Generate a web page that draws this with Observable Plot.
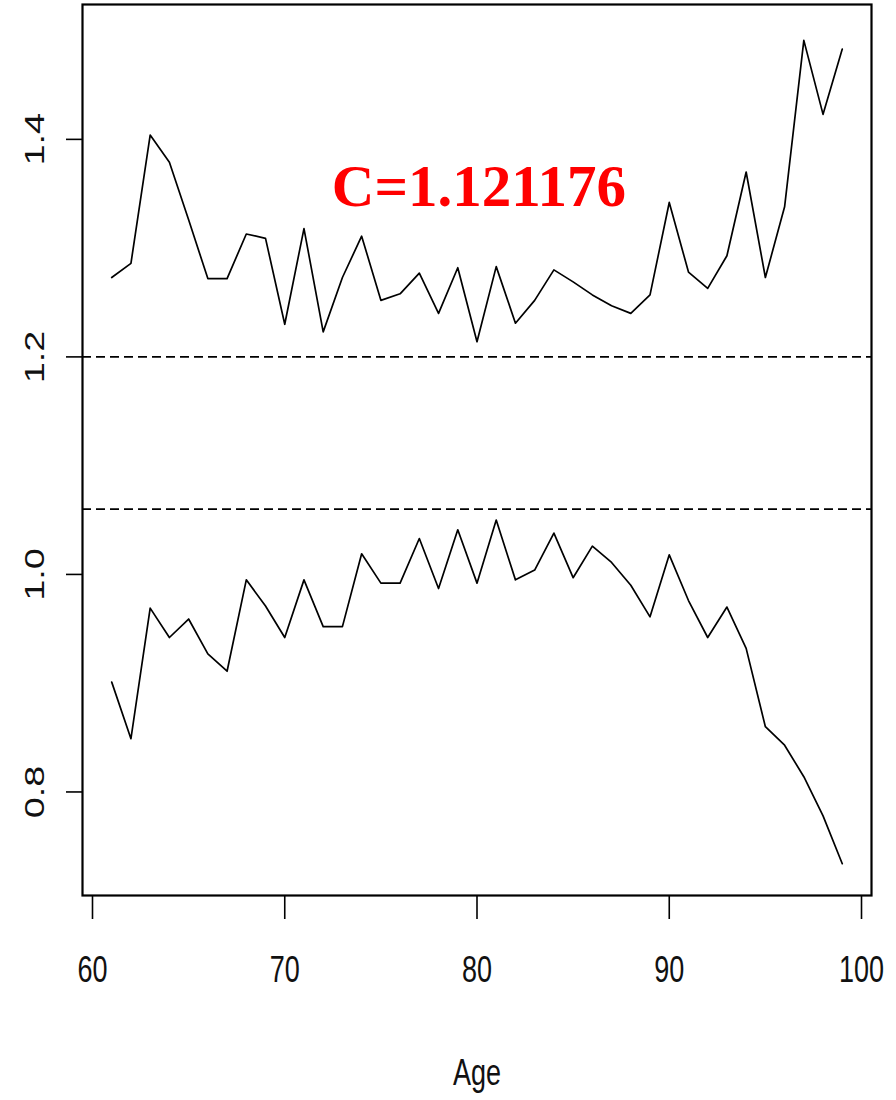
<!DOCTYPE html>
<html>
<head>
<meta charset="utf-8">
<script src="https://cdn.jsdelivr.net/npm/d3@7"></script>
<script src="https://cdn.jsdelivr.net/npm/@observablehq/plot@0.6"></script>
<style>
  html, body { margin: 0; padding: 0; background: #fff; }
  #chart svg { display: block; }
</style>
</head>
<body>
<div id="chart"></div>
<script>
// ---- data ----
const ages = [61,62,63,64,65,66,67,68,69,70,71,72,73,74,75,76,77,78,79,80,
              81,82,83,84,85,86,87,88,89,90,91,92,93,94,95,96,97,98,99];
const upper = [1.273,1.286,1.404,1.379,1.326,1.272,1.272,1.313,1.309,1.230,
               1.318,1.223,1.273,1.311,1.252,1.258,1.277,1.240,1.282,1.214,
               1.283,1.231,1.252,1.280,1.269,1.257,1.247,1.240,1.257,1.342,
               1.278,1.263,1.293,1.370,1.273,1.338,1.491,1.423,1.483];
const lower = [0.901,0.849,0.969,0.942,0.959,0.927,0.911,0.995,0.971,0.942,
               0.995,0.952,0.952,1.019,0.992,0.992,1.033,0.987,1.041,0.992,
               1.050,0.995,1.004,1.038,0.997,1.026,1.011,0.990,0.961,1.018,
               0.976,0.942,0.970,0.932,0.860,0.843,0.814,0.778,0.734];
const refLines = [1.2, 1.06];
const xTicks = [60, 70, 80, 90, 100];
const yTicks = [0.8, 1.0, 1.2, 1.4];
const xLabel = "Age";
const annotation = [{x: 80.1, y: 1.356, text: "C=1.121176"}];

const series = [
  ...ages.map((a, i) => ({age: a, value: upper[i], s: "upper"})),
  ...ages.map((a, i) => ({age: a, value: lower[i], s: "lower"}))
];

const sans = "'Liberation Sans', Arial, sans-serif";

const chart = Plot.plot({
  width: 896,
  height: 1100,
  marginLeft: 82,
  marginRight: 25,
  marginTop: 4,
  marginBottom: 205,
  style: {background: "#fff", color: "#000", fontFamily: sans},
  x: {domain: [59.48, 100.52], axis: null},
  y: {domain: [0.7048, 1.524], axis: null},
  marks: [
    Plot.ruleY(refLines, {stroke: "#000", strokeWidth: 1.8, strokeDasharray: "9,5"}),
    Plot.line(series, {x: "age", y: "value", z: "s", stroke: "#000", strokeWidth: 1.7}),
    Plot.frame({stroke: "#000", strokeWidth: 2.2}),
    Plot.axisX(xTicks, {tickSize: 24, tickFormat: () => "", fill: "none", label: null, stroke: "#000", strokeWidth: 1.6}),
    Plot.axisY(yTicks, {tickSize: 16, tickFormat: () => "", fill: "none", label: null, stroke: "#000", strokeWidth: 1.6}),
    Plot.text(xTicks, {x: d => d, text: d => String(d), frameAnchor: "bottom", lineAnchor: "top",
      dy: 60, fontSize: 27, fontFamily: sans, fill: "#111"}),
    Plot.text(yTicks, {y: d => d, text: d => d.toFixed(1), frameAnchor: "left", dx: -39,
      rotate: -90, lineAnchor: "bottom", textAnchor: "middle", fontSize: 27, fontFamily: sans, fill: "#111"}),
    Plot.text([xLabel], {text: d => d, frameAnchor: "bottom", lineAnchor: "top", dy: 163,
      fontSize: 27, fontFamily: sans, fill: "#111"}),
    Plot.text(annotation, {x: "x", y: "y", text: "text", lineAnchor: "middle", textAnchor: "middle",
      fontSize: 59, fontWeight: "bold", fontFamily: "'Liberation Serif', 'Times New Roman', serif", fill: "#ff0000"})
  ]
});

document.getElementById("chart").appendChild(chart);

// stretch tick labels vertically to mimic the reference's tall glyphs
function stretch(t, sx, sy) {
  const x = +t.getAttribute("x") || 0, y = +t.getAttribute("y") || 0;
  const tr = t.getAttribute("transform") || "";
  t.setAttribute("transform", `${tr} translate(${x},${y}) scale(${sx},${sy}) translate(${-x},${-y})`);
}
const xSet = new Set(xTicks.map(String).concat([xLabel]));
const ySet = new Set(yTicks.map(d => d.toFixed(1)));
chart.querySelectorAll("text").forEach(t => {
  const s = t.textContent;
  if (xSet.has(s)) stretch(t, 1, 1.4);
  else if (ySet.has(s)) stretch(t, 1.4, 1);
});
</script>
</body>
</html>
